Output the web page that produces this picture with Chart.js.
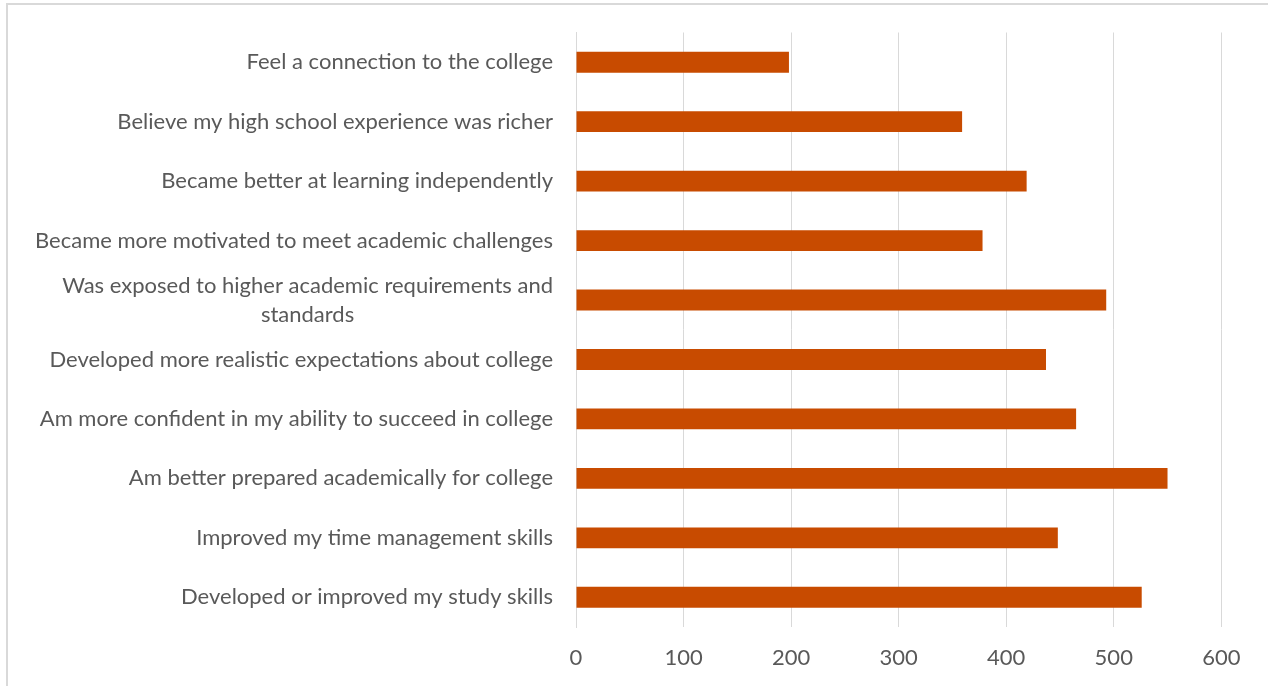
<!DOCTYPE html>
<html>
<head>
<meta charset="utf-8">
<script src="https://cdn.jsdelivr.net/npm/chart.js@4.4.1/dist/chart.umd.min.js"></script>
<style>
  html, body { margin: 0; padding: 0; background: #fff; }
  #wrap { width: 1268px; height: 686px; position: relative; }
</style>
</head>
<body>
<div id="wrap"><canvas id="grafico" width="1268" height="686"></canvas></div>
<script>
// categorias (de cima para baixo)
const categorias = [
    'Feel a connection to the college',
    'Believe my high school experience was richer',
    'Became better at learning independently',
    'Became more motivated to meet academic challenges',
    ['Was exposed to higher academic requirements and', 'standards'],
    'Developed more realistic expectations about college',
    'Am more confident in my ability to succeed in college',
    'Am better prepared academically for college',
    'Improved my time management skills',
    'Developed or improved my study skills'
];

const valores = [198, 359, 419, 378, 493, 437, 465, 550, 448, 526];

const ticksX = [0, 100, 200, 300, 400, 500, 600];

const FONTE = 'Lato, "Open Sans", sans-serif';
const COR_TEXTO = '#595959';
const COR_GRADE = '#d9d9d9';
const TAM_FONTE = 22;

// Borda externa do gráfico (estilo Excel)
const pluginBorda = {
    id: 'borda',
    beforeDraw(chart) {
        const ctx = chart.ctx;
        ctx.save();
        ctx.strokeStyle = COR_GRADE;
        ctx.lineWidth = 2;
        ctx.beginPath();
        ctx.moveTo(7, 700);
        ctx.lineTo(7, 4);
        ctx.lineTo(1300, 4);
        ctx.stroke();
        ctx.restore();
    }
};

// Rótulos do eixo Y: bloco alinhado à direita, linhas centralizadas no bloco
const pluginRotulos = {
    id: 'rotulosY',
    afterDraw(chart) {
        const ctx = chart.ctx;
        const escala = chart.scales.y;
        const alturaLinha = 29;
        const xDireita = escala.right - 23;
        ctx.save();
        ctx.font = TAM_FONTE + 'px ' + FONTE;
        ctx.fillStyle = COR_TEXTO;
        ctx.textBaseline = 'middle';
        ctx.textAlign = 'center';
        categorias.forEach((rotulo, i) => {
            const linhas = Array.isArray(rotulo) ? rotulo : [rotulo];
            const largura = Math.max(...linhas.map(l => ctx.measureText(l).width));
            const xCentro = xDireita - largura / 2;
            const yCentro = escala.getPixelForTick(i);
            const y0 = yCentro - (linhas.length - 1) * alturaLinha / 2;
            linhas.forEach((l, j) => ctx.fillText(l, xCentro, y0 + j * alturaLinha));
        });
        ctx.restore();
    }
};

const ctx = document.getElementById('grafico').getContext('2d');
new Chart(ctx, {
    type: 'bar',
    data: {
        labels: categorias,
        datasets: [{
            data: valores,
            backgroundColor: '#C84B00',
            borderWidth: 0,
            categoryPercentage: 1,
            barPercentage: 0.35
        }]
    },
    options: {
        indexAxis: 'y',
        responsive: false,
        animation: false,
        layout: { padding: { top: 32.5, right: 46.7, bottom: 16, left: 0 } },
        plugins: {
            legend: { display: false },
            tooltip: { enabled: false }
        },
        scales: {
            x: {
                min: 0,
                max: 600,
                afterBuildTicks(escala) {
                    escala.ticks = ticksX.map(v => ({ value: v }));
                },
                afterFit(escala) { escala.height = 43; },
                border: { display: false },
                grid: { color: COR_GRADE, lineWidth: 1, drawTicks: false },
                ticks: {
                    color: COR_TEXTO,
                    font: { family: FONTE, size: TAM_FONTE },
                    padding: 18
                }
            },
            y: {
                afterFit(escala) { escala.width = 576; },
                border: { display: true, color: COR_GRADE, width: 1 },
                grid: { display: false },
                ticks: { display: false }
            }
        }
    },
    plugins: [pluginBorda, pluginRotulos]
});
</script>
</body>
</html>
